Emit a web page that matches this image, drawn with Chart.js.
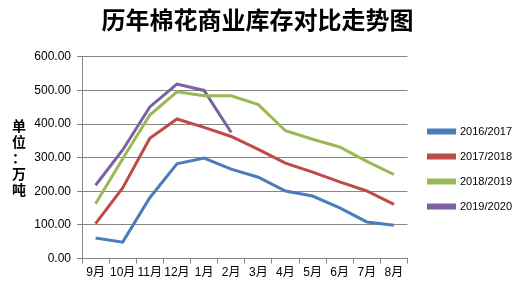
<!DOCTYPE html>
<html>
<head>
<meta charset="utf-8">
<script src="https://cdn.jsdelivr.net/npm/chart.js@4/dist/chart.umd.min.js"></script>
<style>
  html, body { margin: 0; padding: 0; background: #fff; }
  #wrap { position: relative; width: 527px; height: 284px; }
  #unit { position: absolute; left: 11px; top: 117px; width: 16px; font: bold 14px "Noto Sans CJK SC", sans-serif; line-height: 16px; color: #000; text-align: center; }
</style>
</head>
<body>
<div id="wrap">
  <canvas id="kc" width="527" height="284"></canvas>
  <div id="unit">单<br>位<br>：<br>万<br>吨</div>
</div>
<script>
// months of the cotton year
var months = ["9月", "10月", "11月", "12月", "1月", "2月", "3月", "4月", "5月", "6月", "7月", "8月"]
// commercial stock, 10k tons
var s2016 = [61, 49, 181, 282, 299, 266, 242, 201, 186, 151, 109, 99]
var s2017 = [104, 210, 358, 415, 390, 363, 325, 284, 257, 228, 201, 161]
var s2018 = [163, 297, 427, 496, 484, 484, 458, 380, 355, 332, 289, 250]
var s2019 = [218, 323, 451, 519, 500, 375]

var txtFont = "'Liberation Sans', 'Noto Sans CJK SC', sans-serif"

function ds(label, data, color) {
  return {
    label: label, data: data, borderColor: color, backgroundColor: color,
    borderWidth: 3, pointRadius: 0, tension: 0, fill: false
  }
}

// nudge the legend a little right and down, like the excel original
var legendNudge = {
  id: 'legendNudge',
  afterLayout: function (chart) {
    var lg = chart.legend
    lg.left += 7; lg.right += 7
    lg.top += 27; lg.bottom += 27
  }
}

var ctx = document.getElementById("kc")
var chart = new Chart(ctx, {
  type: 'line',
  data: {
    labels: months,
    datasets: [
      ds("2016/2017", s2016, "#4A7EBB"),
      ds("2017/2018", s2017, "#BE4B48"),
      ds("2018/2019", s2018, "#98B954"),
      ds("2019/2020", s2019, "#7D60A0")
    ]
  },
  plugins: [legendNudge],
  options: {
    responsive: false,
    animation: false,
    layout: { padding: { left: 0, right: 12, top: 2, bottom: 2 } },
    plugins: {
      title: {
        display: true,
        text: "历年棉花商业库存对比走势图",
        color: "#000",
        font: { family: "'Noto Sans CJK SC', sans-serif", size: 24, weight: 'bold' },
        padding: { top: 3, bottom: 23 }
      },
      legend: {
        position: 'right',
        align: 'center',
        labels: {
          boxWidth: 26, boxHeight: 3, padding: 14,
          color: "#000",
          font: { family: txtFont, size: 11 }
        }
      },
      tooltip: { enabled: false }
    },
    scales: {
      x: {
        offset: true,
        grid: { display: true, drawOnChartArea: false, drawTicks: true, tickLength: 5, color: "#868686", offset: true },
        border: { color: "#868686" },
        ticks: { color: "#000", font: { family: txtFont, size: 12 }, padding: 2, maxRotation: 0, autoSkip: false }
      },
      y: {
        min: 0, max: 600,
        afterFit: function (scale) { scale.width = 82 },
        grid: { color: "#868686", tickLength: 5 },
        border: { color: "#868686" },
        ticks: {
          stepSize: 100, color: "#000", padding: 6,
          font: { family: txtFont, size: 12 },
          callback: function (v) { return v.toFixed(2) }
        }
      }
    }
  }
})
</script>
</body>
</html>
